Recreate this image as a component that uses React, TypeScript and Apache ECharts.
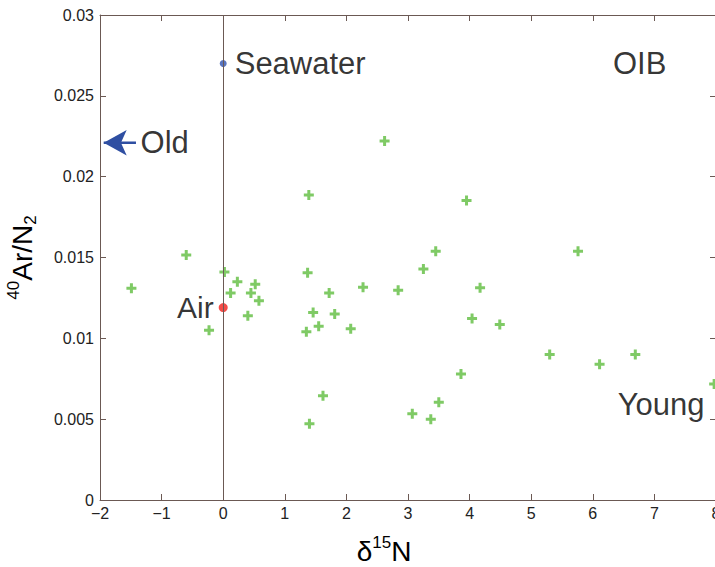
import React, { useEffect, useRef } from "react";
import * as echarts from "echarts";

// OIB sample measurements: delta15N (x) and 40Ar/N2 (y)
const oibX = [-1.49, -0.6, -0.23, 0.02, 0.23, 0.12, 0.45, 0.52, 0.58, 0.4, 1.39, 1.37, 1.46, 1.35, 1.55, 1.72, 1.81, 2.07, 2.27, 2.62, 2.84, 3.25, 3.45, 1.62, 1.4, 3.07, 3.37, 3.5, 3.86, 3.95, 4.17, 4.04, 4.49, 5.3, 6.11, 6.69, 5.76, 7.97];
const oibY = [0.0131, 0.01515, 0.0105, 0.0141, 0.0135, 0.0128, 0.0128, 0.01334, 0.01233, 0.0114, 0.01887, 0.01406, 0.0116, 0.0104, 0.01074, 0.0128, 0.0115, 0.0106, 0.01316, 0.02221, 0.01297, 0.01429, 0.01538, 0.00645, 0.00472, 0.00534, 0.005, 0.00604, 0.00779, 0.01852, 0.01313, 0.01122, 0.01085, 0.009, 0.00839, 0.009, 0.01538, 0.00718];

// Reference points
const airPoint = [0, 0.0119];
const seawaterPoint = [0, 0.027];

// Text annotations (data coordinates)
const annotationText = ["OIB", "Young"];
const annotationX = [6.76, 7.11];
const annotationY = [0.027, 0.0059];

// "Old" arrow
const oldText = "Old";
const oldTextX = -1.35;
const oldArrowY = 0.0221;
const oldArrowFromX = -1.416;
const oldArrowToX = -1.94;

// Axes
const xMin = -2;
const xMax = 8;
const xStep = 1;
const yMin = 0;
const yMax = 0.03;
const yStep = 0.005;

const FONT = "'Liberation Sans', Arial, Helvetica, sans-serif";
const AXIS_COLOR = "#6b5954";
const NOTE_SIZE = 31;

export default function App() {
  const ref = useRef<HTMLDivElement | null>(null);

  useEffect(() => {
    if (!ref.current) return;
    const chart = echarts.init(ref.current, null, { renderer: "svg" });

    const plus = "path://M3.5,0H6.5V3.5H10V6.5H6.5V10H3.5V6.5H0V3.5H3.5Z";

    const xFmt = (v: number) => String(v).replace("-", "\u2212");
    const yFmt = (v: number) => (v === 0 ? "0" : String(parseFloat(v.toFixed(4))));

    const baseX = {
      type: "value",
      min: xMin,
      max: xMax,
      interval: xStep,
      splitLine: { show: false },
      axisLine: { show: true, onZero: false, lineStyle: { color: AXIS_COLOR, width: 1 } },
      axisTick: { show: true, inside: true, length: 6, lineStyle: { color: AXIS_COLOR } },
    };
    const baseY = {
      type: "value",
      min: yMin,
      max: yMax,
      interval: yStep,
      splitLine: { show: false },
      axisLine: { show: true, onZero: false, lineStyle: { color: AXIS_COLOR, width: 1 } },
      axisTick: { show: true, inside: true, length: 6, lineStyle: { color: AXIS_COLOR } },
    };

    const option: any = {
      animation: false,
      textStyle: { fontFamily: FONT },
      grid: { left: 100, top: 15, width: 616, height: 485, containLabel: false, outerBoundsMode: "none" },
      xAxis: [
        {
          ...baseX,
          position: "bottom",
          axisLabel: { show: true, fontSize: 16, color: "#222", margin: 5, fontFamily: FONT, formatter: xFmt },
          name: "{main|\u03b4}{sup|15}{main|N}",
          nameLocation: "middle",
          nameGap: 34,
          nameTextStyle: {
            padding: [0, 48, 0, 0],
            rich: {
              main: { fontSize: 28, lineHeight: 34, verticalAlign: "middle", color: "#000", fontFamily: FONT },
              sup: { fontSize: 17, lineHeight: 16, verticalAlign: "top", color: "#000", fontFamily: FONT },
            },
          },
        },
        {
          ...baseX,
          position: "top",
          axisLabel: { show: false },
        },
      ],
      yAxis: [
        {
          ...baseY,
          position: "left",
          axisLabel: { show: true, fontSize: 16, color: "#222", margin: 6, fontFamily: FONT, formatter: yFmt },
          name: "{sup|40}{main|Ar/N}{sub|2}",
          nameLocation: "middle",
          nameRotate: 90,
          nameGap: 61,
          nameTextStyle: {
            rich: {
              main: { fontSize: 28, lineHeight: 34, verticalAlign: "middle", color: "#000", fontFamily: FONT },
              sup: { fontSize: 17, lineHeight: 16, verticalAlign: "top", color: "#000", fontFamily: FONT },
              sub: { fontSize: 17, lineHeight: 10, verticalAlign: "bottom", color: "#000", fontFamily: FONT },
            },
          },
        },
        {
          ...baseY,
          position: "right",
          axisLabel: { show: false },
        },
      ],
      series: [
        {
          name: "OIB samples",
          type: "scatter",
          xAxisIndex: 0,
          yAxisIndex: 0,
          symbol: plus,
          symbolSize: 10,
          itemStyle: { color: "#5fbd3e" },
          data: oibX.map((x, i) => [x, oibY[i]]),
          z: 3,
          markLine: {
            silent: true,
            symbol: ["none", "none"],
            label: { show: false },
            lineStyle: { color: AXIS_COLOR, width: 1, type: "solid" },
            data: [{ xAxis: 0 }],
          },
        },
        {
          name: "Air",
          type: "scatter",
          symbol: "circle",
          symbolSize: 9,
          itemStyle: { color: "#f0201c" },
          z: 4,
          data: [airPoint],
          label: {
            show: true,
            position: "left",
            distance: 5,
            formatter: "Air",
            fontSize: NOTE_SIZE - 1,
            color: "#000",
            fontFamily: FONT,
          },
        },
        {
          name: "Seawater",
          type: "scatter",
          symbol: "circle",
          symbolSize: 7,
          itemStyle: { color: "#2f52b0" },
          z: 4,
          data: [seawaterPoint],
          label: {
            show: true,
            position: "right",
            distance: 8,
            formatter: "Seawater",
            fontSize: NOTE_SIZE,
            color: "#000",
            fontFamily: FONT,
          },
        },
        {
          name: "Annotations",
          type: "scatter",
          symbolSize: 1,
          clip: false,
          silent: true,
          itemStyle: { color: "transparent" },
          data: annotationText.map((t, i) => ({ value: [annotationX[i], annotationY[i], t] })),
          label: {
            show: true,
            position: "inside",
            formatter: (p: any) => p.value[2],
            fontSize: NOTE_SIZE,
            color: "#000",
            fontFamily: FONT,
          },
        },
        {
          name: "OldLabel",
          type: "scatter",
          symbolSize: 1,
          clip: false,
          silent: true,
          itemStyle: { color: "transparent" },
          data: [[oldTextX, oldArrowY]],
          label: {
            show: true,
            position: "right",
            distance: 0,
            formatter: oldText,
            fontSize: NOTE_SIZE,
            color: "#000",
            fontFamily: FONT,
          },
        },
        {
          name: "OldArrow",
          type: "line",
          clip: false,
          silent: true,
          showSymbol: true,
          itemStyle: { color: "#2f4fa2" },
          lineStyle: { color: "#2f4fa2", width: 2.5 },
          data: [
            { value: [oldArrowFromX, oldArrowY], symbol: "none" },
            { value: [oldArrowToX, oldArrowY], symbol: "arrow", symbolRotate: 90, symbolSize: [19, 23] },
          ],
        },
      ],
    };

    chart.setOption(option);
    return () => chart.dispose();
  }, []);

  return (
    <div
      ref={ref}
      style={{ position: "absolute", left: 0, top: 0, width: 715, height: 567, background: "#fff" }}
    />
  );
}
